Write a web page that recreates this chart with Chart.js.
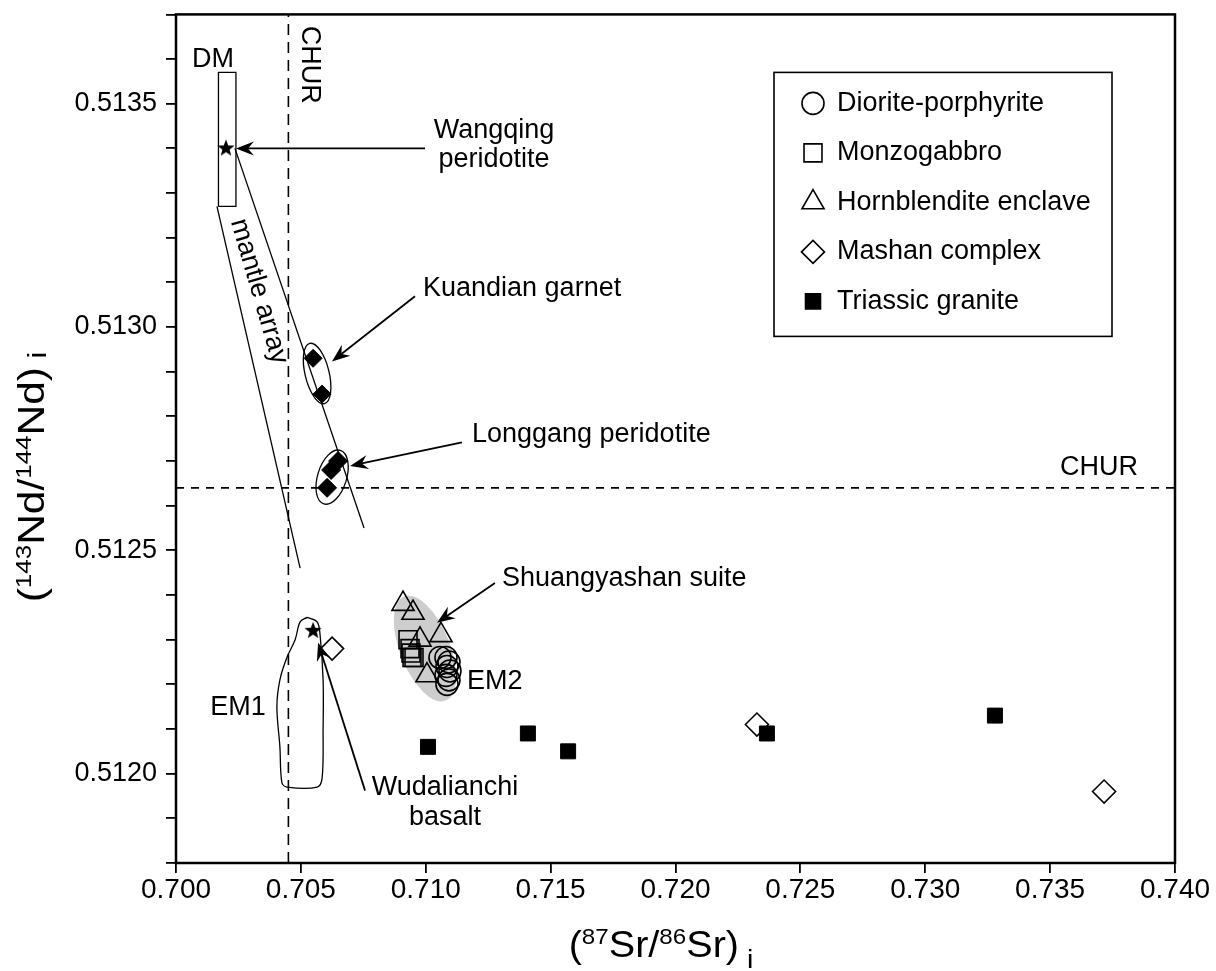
<!DOCTYPE html>
<html>
<head>
<meta charset="utf-8">
<title>Sr-Nd isotopes</title>
<script src="https://cdn.jsdelivr.net/npm/chart.js@4.4.0/dist/chart.umd.min.js"></script>
<style>
  html, body { margin: 0; padding: 0; background: #fff; }
  #wrap { width: 1216px; height: 971px; }
</style>
</head>
<body>
<div id="wrap"><canvas id="chart" width="1216" height="971"></canvas></div>
<script>
// initial (87Sr/86Sr) vs (143Nd/144Nd)

// Shuangyashan suite
var dioriteSr = [0.71057, 0.71081, 0.71093, 0.71085, 0.71097, 0.71081, 0.71093, 0.71085];
var dioriteNd = [0.51226, 0.51226, 0.51225, 0.51224, 0.51223, 0.51222, 0.51221, 0.51220];
var monzoSr = [0.70929, 0.70937, 0.70941, 0.70945, 0.70953];
var monzoNd = [0.51230, 0.51228, 0.51227, 0.51226, 0.51226];
var hornSr = [0.70909, 0.70949, 0.71061, 0.70977, 0.71005];
var hornNd = [0.51238, 0.51236, 0.51231, 0.51230, 0.51222];

// regional rocks
var mashanSr = [0.70625, 0.72326, 0.73716];
var mashanNd = [0.51228, 0.51211, 0.51196];
var graniteSr = [0.71009, 0.71409, 0.71570, 0.72366, 0.73279];
var graniteNd = [0.51206, 0.51209, 0.51205, 0.51209, 0.51213];

// mantle samples
var kuandianSr = [0.70549, 0.70585];
var kuandianNd = [0.51293, 0.51285];
var longgangSr = [0.70649, 0.70621, 0.70605];
var longgangNd = [0.51270, 0.51268, 0.51264];
var wangqingSr = [0.70200];
var wangqingNd = [0.51340];
var wudalianchiSr = [0.70549];
var wudalianchiNd = [0.51232];

// reservoirs
var churSr = 0.7045;
var churNd = 0.51264;
var dmSr = [0.7017, 0.7024];
var dmNd = [0.51327, 0.51357];
var mantleLowSr = [0.70164, 0.70497];
var mantleLowNd = [0.51327, 0.51246];
var mantleHighSr = [0.70236, 0.70753];
var mantleHighNd = [0.51340, 0.51255];
var em1Sr = [0.70525, 0.70565, 0.70577, 0.70589, 0.70589, 0.70585, 0.70565, 0.70444, 0.70424,
             0.70416, 0.70404, 0.70416, 0.70444, 0.70477, 0.70497, 0.70525];
var em1Nd = [0.51235, 0.51234, 0.51231, 0.51221, 0.51210, 0.51199, 0.51197, 0.51197, 0.51198,
             0.51206, 0.51215, 0.51221, 0.51226, 0.51230, 0.51234, 0.51235];

// axes
var srRange = [0.700, 0.740];
var srStep = 0.005;
var ndRange = [0.5118, 0.5137];
var ndStep = 0.0001;

// outlined fields: centre in data units, radii in px, tilt in rad
var fields = [
  { sr: 0.70997, nd: 0.51228, rx: 25, ry: 56, tilt: -0.38, fill: '#cdcdcd' },
  { sr: 0.70565, nd: 0.512896, rx: 12, ry: 31, tilt: -0.24 },
  { sr: 0.70625, nd: 0.512664, rx: 14.5, ry: 28, tilt: 0.3 }
];

var arrows = [
  { from: [0.70997, 0.51340], to: [0.70240, 0.51340] },
  { from: [0.70957, 0.513069], to: [0.706246, 0.512923] },
  { from: [0.71145, 0.512742], to: [0.70697, 0.512689] },
  { from: [0.71277, 0.512427], to: [0.71045, 0.512338] },
  { from: [0.70757, 0.511962], to: [0.70569, 0.512293] }
];

var notes = [
  { text: 'DM', sr: 0.70148, nd: 0.51360 },
  { text: 'CHUR', sr: 0.705325, nd: 0.513587, rot: Math.PI / 2 },
  { text: 'Wangqing', sr: 0.71273, nd: 0.51344 },
  { text: 'peridotite', sr: 0.71273, nd: 0.513375 },
  { text: 'Kuandian garnet', sr: 0.70989, nd: 0.513086, align: 'left' },
  { text: 'Longgang peridotite', sr: 0.71185, nd: 0.51276, align: 'left' },
  { text: 'CHUR', sr: 0.736957, nd: 0.512686 },
  { text: 'mantle array', sr: 0.70332, nd: 0.51308, rot: 1.286 },
  { text: 'Shuangyashan suite', sr: 0.71305, nd: 0.512436, align: 'left' },
  { text: 'EM2', sr: 0.71165, nd: 0.512206, align: 'left' },
  { text: 'EM1', sr: 0.70248, nd: 0.512148 },
  { text: 'Wudalianchi', sr: 0.71077, nd: 0.511969 },
  { text: 'basalt', sr: 0.71077, nd: 0.511902 }
];

var legendOrder = ['Diorite-porphyrite', 'Monzogabbro', 'Hornblendite enclave', 'Mashan complex', 'Triassic granite'];

var FONT = '"Liberation Sans", Arial, Helvetica, sans-serif';
function font(size) { return size + 'px ' + FONT; }

Chart.defaults.font.family = FONT;
Chart.defaults.color = '#000';

function pts(xs, ys) {
  return xs.map(function(x, i) { return { x: x, y: ys[i] }; });
}

function marker(label, xs, ys, style, radius, filled) {
  return {
    label: label,
    data: pts(xs, ys),
    pointStyle: style,
    pointRadius: radius,
    pointHoverRadius: radius,
    pointBorderWidth: filled ? 1 : 1.6,
    pointBorderColor: '#000',
    pointBackgroundColor: filled ? '#000' : 'rgba(0,0,0,0)',
    showLine: false
  };
}

function path(xs, ys, extra) {
  var ds = {
    data: pts(xs, ys),
    showLine: true,
    pointRadius: 0,
    pointHoverRadius: 0,
    borderColor: '#000',
    borderWidth: 1.3,
    fill: false
  };
  for (var k in extra) ds[k] = extra[k];
  return ds;
}

// filled five-point star used as a point style
function starMark(r) {
  var c = document.createElement('canvas');
  var s = Math.ceil(r * 2 + 2);
  c.width = c.height = s;
  var g = c.getContext('2d');
  g.beginPath();
  for (var i = 0; i < 10; i++) {
    var a = -Math.PI / 2 + i * Math.PI / 5;
    var rr = i % 2 ? r * 0.42 : r;
    g.lineTo(s / 2 + rr * Math.cos(a), s / 2 + rr * Math.sin(a));
  }
  g.closePath();
  g.fillStyle = '#000';
  g.fill();
  return c;
}
var star = starMark(9);

var datasets = [
  marker('Triassic granite', graniteSr, graniteNd, 'rect', 10.6, true),
  marker('Mashan complex', mashanSr, mashanNd, 'rectRot', 11.5, false),
  marker('Diorite-porphyrite', dioriteSr, dioriteNd, 'circle', 11, false),
  marker('Monzogabbro', monzoSr, monzoNd, 'rect', 12.7, false),
  marker('Hornblendite enclave', hornSr, hornNd, 'triangle', 12.8, false),
  marker('Kuandian garnet', kuandianSr, kuandianNd, 'rectRot', 9, true),
  marker('Longgang peridotite', longgangSr, longgangNd, 'rectRot', 9.5, true),
  marker('Wangqing peridotite', wangqingSr, wangqingNd, star, 9, true),
  marker('Wudalianchi basalt', wudalianchiSr, wudalianchiNd, star, 9, true),
  path([srRange[0], srRange[1]], [churNd, churNd], { borderDash: [8, 7], borderWidth: 1.6 }),
  path([churSr, churSr], [ndRange[0], ndRange[1]], { borderDash: [11, 7], borderWidth: 1.6 }),
  path([dmSr[0], dmSr[1], dmSr[1], dmSr[0], dmSr[0]], [dmNd[0], dmNd[0], dmNd[1], dmNd[1], dmNd[0]]),
  path(mantleLowSr, mantleLowNd),
  path(mantleHighSr, mantleHighNd),
  path(em1Sr, em1Nd, { tension: 0.35 })
];

function toPx(chart, sr, nd) {
  return [chart.scales.x.getPixelForValue(sr), chart.scales.y.getPixelForValue(nd)];
}

function drawField(chart, f, filled) {
  var ctx = chart.ctx;
  var p = toPx(chart, f.sr, f.nd);
  ctx.beginPath();
  ctx.ellipse(p[0], p[1], f.rx, f.ry, f.tilt, 0, Math.PI * 2);
  if (filled) {
    ctx.fillStyle = f.fill;
    ctx.fill();
  } else {
    ctx.strokeStyle = '#000';
    ctx.lineWidth = 1.3;
    ctx.stroke();
  }
}

function drawArrow(chart, a) {
  var ctx = chart.ctx;
  var p0 = toPx(chart, a.from[0], a.from[1]);
  var p1 = toPx(chart, a.to[0], a.to[1]);
  var ang = Math.atan2(p1[1] - p0[1], p1[0] - p0[0]);
  var ux = Math.cos(ang), uy = Math.sin(ang);
  var len = 18, half = 7, notch = 12;
  var bx = p1[0] - ux * len, by = p1[1] - uy * len;
  var nx = p1[0] - ux * notch, ny = p1[1] - uy * notch;
  ctx.beginPath();
  ctx.moveTo(p0[0], p0[1]);
  ctx.lineTo(nx, ny);
  ctx.lineWidth = 1.8;
  ctx.strokeStyle = '#000';
  ctx.stroke();
  ctx.beginPath();
  ctx.moveTo(p1[0], p1[1]);
  ctx.lineTo(bx - uy * half, by + ux * half);
  ctx.lineTo(nx, ny);
  ctx.lineTo(bx + uy * half, by - ux * half);
  ctx.closePath();
  ctx.fillStyle = '#000';
  ctx.fill();
}

function drawNote(chart, n) {
  var ctx = chart.ctx;
  var p = toPx(chart, n.sr, n.nd);
  ctx.save();
  ctx.translate(p[0], p[1]);
  if (n.rot) ctx.rotate(n.rot);
  ctx.font = font(27);
  ctx.fillStyle = '#000';
  ctx.textAlign = n.align || 'center';
  ctx.textBaseline = 'middle';
  ctx.fillText(n.text, 0, 0);
  ctx.restore();
}

function drawLegend(chart) {
  var ctx = chart.ctx, area = chart.chartArea;
  var left = area.right - 401, top = area.top + 58, w = 338, h = 264;
  ctx.save();
  ctx.fillStyle = '#fff';
  ctx.fillRect(left, top, w, h);
  ctx.lineWidth = 1.6;
  ctx.strokeStyle = '#000';
  ctx.strokeRect(left, top, w, h);
  legendOrder.forEach(function(name, i) {
    var ds = chart.data.datasets.filter(function(d) { return d.label === name; })[0];
    var y = top + 31 + i * 49.5;
    ctx.fillStyle = ds.pointBackgroundColor;
    ctx.strokeStyle = '#000';
    Chart.helpers.drawPoint(ctx, {
      pointStyle: ds.pointStyle,
      radius: ds.pointRadius,
      borderWidth: ds.pointBorderWidth,
      rotation: 0
    }, left + 39, y);
    ctx.fillStyle = '#000';
    ctx.font = font(27);
    ctx.textAlign = 'left';
    ctx.textBaseline = 'middle';
    ctx.fillText(name, left + 63, y);
  });
  ctx.restore();
}

// title text with superscripts, stretched along the reading direction
function drawTitle(ctx, parts, cx, cy, angle, size, stretch) {
  ctx.save();
  ctx.translate(cx, cy);
  ctx.rotate(angle);
  ctx.scale(stretch, 1);
  var total = 0;
  parts.forEach(function(p) {
    ctx.font = font(p.size || size);
    total += ctx.measureText(p.text).width;
  });
  var x = -total / 2;
  ctx.fillStyle = '#000';
  ctx.textAlign = 'left';
  ctx.textBaseline = 'alphabetic';
  parts.forEach(function(p) {
    ctx.font = font(p.size || size);
    ctx.fillText(p.text, x, size * 0.358 + (p.dy || 0));
    x += ctx.measureText(p.text).width;
  });
  ctx.restore();
}

var decor = {
  id: 'decor',
  beforeDatasetsDraw: function(chart) {
    fields.forEach(function(f) { if (f.fill) drawField(chart, f, true); });
  },
  afterDatasetsDraw: function(chart) {
    var ctx = chart.ctx;
    ctx.save();
    fields.forEach(function(f) { if (!f.fill) drawField(chart, f, false); });
    arrows.forEach(function(a) { drawArrow(chart, a); });
    notes.forEach(function(n) { drawNote(chart, n); });
    ctx.restore();
    drawLegend(chart);
  },
  afterDraw: function(chart) {
    var ctx = chart.ctx, area = chart.chartArea;
    ctx.save();
    ctx.lineWidth = 2.5;
    ctx.strokeStyle = '#000';
    ctx.strokeRect(area.left, area.top, area.right - area.left, area.bottom - area.top);

    var sup = 22, sub = 26;
    drawTitle(ctx, [
      { text: '(' }, { text: '87', size: sup, dy: -13 }, { text: 'Sr/' },
      { text: '86', size: sup, dy: -13 }, { text: 'Sr)' }, { text: ' i', size: sub, dy: 11 }
    ], 661, 944, 0, 36, 1.1);
    drawTitle(ctx, [
      { text: '(' }, { text: '143', size: sup, dy: -13 }, { text: 'Nd/' },
      { text: '144', size: sup, dy: -13 }, { text: 'Nd)' }, { text: ' i', size: sub, dy: 2 }
    ], 31, 477, -Math.PI / 2, 36, 1.18);
    ctx.restore();
  }
};

new Chart(document.getElementById('chart'), {
  type: 'scatter',
  data: { datasets: datasets },
  options: {
    responsive: false,
    animation: false,
    events: [],
    layout: { padding: { top: 10, right: 41, left: 0, bottom: 0 } },
    plugins: { legend: { display: false }, tooltip: { enabled: false } },
    scales: {
      x: {
        type: 'linear',
        min: srRange[0],
        max: srRange[1],
        afterFit: function(s) {
          s.height = 108;
          s.paddingLeft = 0;
          s.paddingRight = 0;
        },
        border: { display: false },
        grid: { drawOnChartArea: false, drawTicks: true, tickLength: 10, color: '#000', lineWidth: 1.8 },
        ticks: {
          stepSize: srStep,
          maxTicksLimit: 30,
          padding: 0,
          color: '#000',
          font: { size: 28 },
          maxRotation: 0,
          callback: function(v) { return v.toFixed(3); }
        }
      },
      y: {
        type: 'linear',
        min: ndRange[0],
        max: ndRange[1],
        afterFit: function(s) {
          s.width = 176;
          s.paddingTop = 0;
          s.paddingBottom = 0;
        },
        border: { display: false },
        grid: { drawOnChartArea: false, drawTicks: true, tickLength: 10, color: '#000', lineWidth: 1.8 },
        ticks: {
          stepSize: ndStep,
          maxTicksLimit: 30,
          autoSkip: false,
          padding: 9,
          color: '#000',
          font: { size: 27 },
          callback: function(v) { return Math.round(v * 1e4) % 5 === 0 ? v.toFixed(4) : ''; }
        }
      }
    }
  },
  plugins: [decor]
});
</script>
</body>
</html>
